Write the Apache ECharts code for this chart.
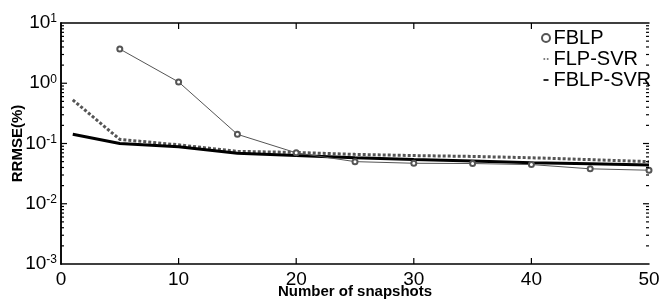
<!DOCTYPE html>
<html>
<head>
<meta charset="utf-8">
<script src="https://cdn.jsdelivr.net/npm/echarts@6/dist/echarts.min.js"></script>
<style>
  html, body { margin: 0; padding: 0; background: #fff; }
  #chart { width: 659px; height: 300px; }
</style>
</head>
<body>
<div id="chart"></div>
<script>
  // snapshot counts
  var xFBLP = [5, 10, 15, 20, 25, 30, 35, 40, 45, 50];
  var xSVR = [1, 5, 10, 15, 20, 25, 30, 35, 40, 45, 50];
  // RRMSE (%)
  var fblp = [3.7, 1.05, 0.142, 0.070, 0.050, 0.047, 0.0465, 0.0447, 0.038, 0.036];
  var flpSvr = [0.53, 0.117, 0.095, 0.074, 0.071, 0.066, 0.063, 0.061, 0.058, 0.054, 0.050];
  var fblpSvr = [0.142, 0.100, 0.088, 0.069, 0.063, 0.058, 0.054, 0.051, 0.048, 0.046, 0.044];
  // tick positions
  var xMajor = [10, 20, 30, 40];
  var yMajor = [0.01, 0.1, 1];
  var yMinor = [];
  [0.001, 0.01, 0.1, 1].forEach(function (d) {
    for (var k = 2; k <= 9; k++) yMinor.push(d * k);
  });

  var font = '"Liberation Sans", Arial, Helvetica, sans-serif';

  function pairs(xs, ys) {
    return xs.map(function (x, i) { return [x, ys[i]]; });
  }

  // ticks: [x, y, kind] kind 0 = x major, 1 = y major, 2 = y minor
  var tickData = []
    .concat(xMajor.map(function (x) { return [x, 0.001, 0]; }))
    .concat(yMajor.map(function (v) { return [0, v, 1]; }))
    .concat(yMinor.map(function (v) { return [0, v, 2]; }));

  var axisLine = { show: true, lineStyle: { color: '#000', width: 1.5 } };

  var chart = echarts.init(document.getElementById('chart'));
  chart.setOption({
    animation: false,
    backgroundColor: '#fff',
    grid: {
      left: 61, right: 10, top: 23, bottom: 36,
      outerBoundsMode: 'none', containLabel: false
    },
    legend: {
      orient: 'vertical',
      left: 541, top: 28, padding: 0,
      itemWidth: 5, itemHeight: 10, itemGap: 1,
      textStyle: { fontFamily: font, fontSize: 20, lineHeight: 20, color: '#000' },
      data: [
        { name: 'FBLP' },
        { name: 'FLP-SVR', icon: 'path://M0,0h2v2h-2zM4,0h2v2h-2z', itemStyle: { color: '#555' } },
        { name: 'FBLP-SVR', icon: 'path://M0,0h6v2h-6z', itemStyle: { color: '#000' } }
      ]
    },
    xAxis: [{
      type: 'value', min: 0, max: 50, interval: 10,
      name: 'Number of snapshots', nameLocation: 'middle', nameGap: 20, nameMoveOverlap: false,
      nameTextStyle: { fontFamily: font, fontSize: 15, fontWeight: 'bold', color: '#000' },
      axisLine: axisLine,
      axisTick: { show: false },
      axisLabel: { fontFamily: font, fontSize: 19, color: '#000', margin: 6 },
      splitLine: { show: false }
    }, {
      type: 'value', min: 0, max: 50, interval: 10, position: 'top',
      axisLine: axisLine,
      axisTick: { show: false },
      axisLabel: { show: false },
      splitLine: { show: false }
    }],
    yAxis: [{
      type: 'log', min: 0.001, max: 10, logBase: 10,
      name: 'RRMSE(%)', nameLocation: 'middle', nameGap: 36, nameMoveOverlap: false,
      nameTextStyle: { fontFamily: font, fontSize: 15, fontWeight: 'bold', color: '#000' },
      axisLine: axisLine,
      axisTick: { show: false },
      axisLabel: {
        margin: 4,
        formatter: function (v) {
          return '{b|10}{s|' + Math.round(Math.log10(v)) + '}';
        },
        rich: {
          b: { fontFamily: font, fontSize: 19, color: '#000' },
          s: { fontFamily: font, fontSize: 12, color: '#000', verticalAlign: 'top', padding: [0, 0, 8, 0] }
        }
      },
      splitLine: { show: false }
    }, {
      type: 'log', min: 0.001, max: 10, logBase: 10, position: 'right',
      axisLine: axisLine,
      axisTick: { show: false },
      axisLabel: { show: false },
      splitLine: { show: false }
    }],
    series: [{
      name: 'FLP-SVR', type: 'line',
      data: pairs(xSVR, flpSvr),
      symbol: 'none',
      itemStyle: { color: '#555' },
      lineStyle: { color: '#555', width: 3, type: [3, 2] },
      z: 2
    }, {
      name: 'FBLP-SVR', type: 'line',
      data: pairs(xSVR, fblpSvr),
      symbol: 'none',
      itemStyle: { color: '#000' },
      lineStyle: { color: '#000', width: 3 },
      z: 3
    }, {
      name: 'FBLP', type: 'line',
      data: pairs(xFBLP, fblp),
      symbol: 'emptyCircle', symbolSize: 5,
      itemStyle: { color: '#555', borderWidth: 1 },
      lineStyle: { color: '#555', width: 1 },
      z: 4
    }, {
      // inward ticks on all four sides of the box
      type: 'custom',
      silent: true,
      clip: false,
      data: tickData,
      encode: { x: 0, y: 1 },
      renderItem: function (params, api) {
        var kind = api.value(2);
        var st = { stroke: '#000', lineWidth: 1.2 };
        var a, b;
        if (kind === 0) {
          a = api.coord([api.value(0), 0.001]);
          b = api.coord([api.value(0), 10]);
          return {
            type: 'group',
            children: [
              { type: 'line', shape: { x1: a[0], y1: a[1], x2: a[0], y2: a[1] - 6 }, style: st },
              { type: 'line', shape: { x1: b[0], y1: b[1], x2: b[0], y2: b[1] + 6 }, style: st }
            ]
          };
        }
        var len = kind === 1 ? 6 : 3;
        a = api.coord([0, api.value(1)]);
        b = api.coord([50, api.value(1)]);
        return {
          type: 'group',
          children: [
            { type: 'line', shape: { x1: a[0], y1: a[1], x2: a[0] + len, y2: a[1] }, style: st },
            { type: 'line', shape: { x1: b[0], y1: b[1], x2: b[0] - len, y2: b[1] }, style: st }
          ]
        };
      },
      z: 5
    }]
  });
</script>
</body>
</html>
